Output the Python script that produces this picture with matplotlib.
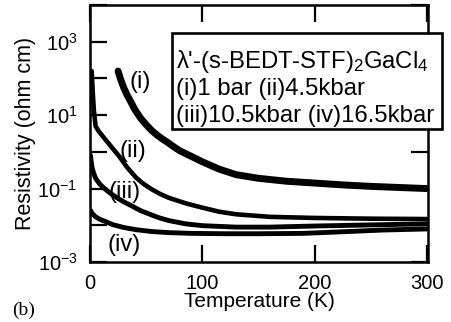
import numpy as np
import matplotlib.pyplot as plt
from matplotlib.patches import Rectangle

plt.rcParams['font.family'] = ['Liberation Sans', 'DejaVu Sans']
plt.rcParams['mathtext.fontset'] = 'custom'
plt.rcParams['mathtext.rm'] = 'Liberation Sans'
plt.rcParams['mathtext.it'] = 'Liberation Sans:italic'
plt.rcParams['mathtext.bf'] = 'Liberation Sans:bold'

# curve (i) 1 bar
t_i = [25, 27, 30, 33, 36, 40, 45, 50, 55, 60, 65, 70, 75, 80, 90, 100, 115, 130,
       150, 175, 200, 225, 250, 275, 300]
log_i = [2.2, 2.0, 1.75, 1.55, 1.38, 1.15, 0.92, 0.74, 0.58, 0.45, 0.34, 0.24, 0.13,
         0.03, -0.12, -0.27, -0.47, -0.62, -0.72, -0.8, -0.85, -0.9, -0.94, -0.97, -1.0]

# curve (ii) 4.5 kbar
t_ii = [1.5, 2.5, 3.5, 5, 8, 12, 16, 20, 26, 33, 41, 48, 55, 62, 70, 85, 100, 115,
        130, 160, 200, 250, 300]
log_ii = [2.2, 1.6, 1.1, 0.7, 0.55, 0.4, 0.25, 0.1, -0.12, -0.42, -0.7, -0.88, -1.02,
          -1.14, -1.25, -1.4, -1.52, -1.63, -1.7, -1.77, -1.8, -1.82, -1.83]

# curve (iii) 10.5 kbar
t_iii = [0.5, 1, 2, 3.5, 5, 8, 11, 15, 20, 25, 30, 37, 45, 55, 62, 70, 85, 100, 130,
         160, 200, 250, 300]
log_iii = [-0.1, -0.25, -0.45, -0.6, -0.72, -0.85, -0.95, -1.05, -1.17, -1.27, -1.36,
           -1.47, -1.6, -1.72, -1.8, -1.87, -1.96, -2.01, -2.05, -2.05, -2.02, -1.99, -1.96]

# curve (iv) 16.5 kbar
t_iv = [0.5, 2, 5, 9, 14, 20, 30, 41, 55, 70, 90, 120, 150, 190, 230, 260, 300]
log_iv = [-1.6, -1.68, -1.77, -1.84, -1.9, -1.98, -2.06, -2.12, -2.17, -2.2, -2.22,
          -2.23, -2.23, -2.22, -2.17, -2.13, -2.1]

labels = ['(i)', '(ii)', '(iii)', '(iv)']
label_t = [44.5, 38, 31, 30]
label_log = [1.9, 0.02, -1.08, -2.55]

legend_lines = ["λ'-(s-BEDT-STF)$_2$GaCl$_4$",
                "(i)1 bar (ii)4.5kbar",
                "(iii)10.5kbar (iv)16.5kbar"]

fig = plt.figure(figsize=(4.51, 3.22), dpi=100)
ax = fig.add_axes([90 / 451, 60 / 322, 338 / 451, 257 / 322])

ax.plot(t_i, 10 ** np.array(log_i), color='black', lw=5, solid_capstyle='round')
ax.plot(t_ii, 10 ** np.array(log_ii), color='black', lw=3.3, solid_capstyle='round')
ax.plot(t_iii, 10 ** np.array(log_iii), color='black', lw=3.5, solid_capstyle='round')
ax.plot(t_iv, 10 ** np.array(log_iv), color='black', lw=3.5, solid_capstyle='round')

for lab, tx, ly in zip(labels, label_t, label_log):
    ax.text(tx, 10 ** ly, lab, fontsize=17, ha='center', va='center')

ax.set_yscale('log')
ax.set_xlim(0, 301)
ax.set_ylim(1e-3, 1e4)
ax.set_yticks([1e-3, 1e-2, 1e-1, 1, 1e1, 1e2, 1e3, 1e4])
ax.set_yticklabels(['$10^{-3}$', '', '$10^{-1}$', '', '$10^{1}$', '', '$10^{3}$', ''])
ax.yaxis.set_minor_locator(plt.NullLocator())
ax.set_xticks([0, 100, 200, 300])
ax.tick_params(direction='in', length=12, width=1.6, top=True, right=True,
               labelsize=14.5)
ax.tick_params(axis='x', pad=8.5)
ax.tick_params(axis='y', pad=9)
for s in ax.spines.values():
    s.set_linewidth(1.8)

ax.set_xlabel('Temperature (K)', fontsize=15)
ax.set_ylabel('Resistivity (ohm cm)', fontsize=15.5)
ax.xaxis.set_label_coords(0.5, -0.115)
ax.yaxis.set_label_coords(-0.16, 0.5)

# legend box sits over the top right corner of the frame
fig.patches.append(Rectangle((172 / 451, 193 / 322), 270 / 451, 96 / 322,
                             transform=fig.transFigure, facecolor='white', lw=1.9,
                             edgecolor='black', zorder=5))
for k, line in enumerate(legend_lines):
    fig.text(176 / 451, (254 - 27 * k) / 322, line, fontsize=17.2, va='baseline',
             zorder=6)

fig.text(24 / 451, 12 / 322, '(b)', fontsize=14, family='Liberation Serif',
         ha='center', va='center')

fig.savefig('out.png', dpi=100)
